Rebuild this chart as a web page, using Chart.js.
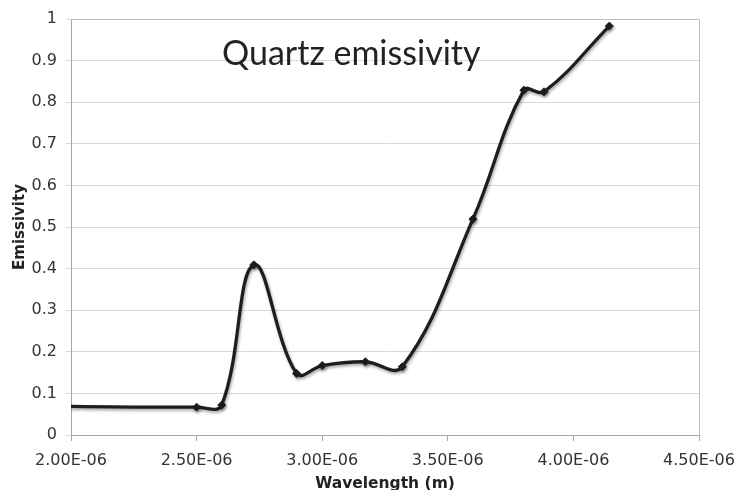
<!DOCTYPE html>
<html>
<head>
<meta charset="utf-8">
<script src="https://cdn.jsdelivr.net/npm/chart.js@4.4.0/dist/chart.umd.min.js"></script>
<style>
html,body{margin:0;padding:0;background:#fff;}
#wrap{width:736px;height:490px;position:relative;}
</style>
</head>
<body>
<div id="wrap"><canvas id="c" width="736" height="490"></canvas></div>
<script>
const chartTitle = "Quartz emissivity";
const xAxisTitle = "Wavelength (m)";
const yAxisTitle = "Emissivity";
const wavelengths = [1.8e-6, 2.50e-6, 2.60e-6, 2.728e-6, 2.898e-6, 3.00e-6, 3.172e-6, 3.319e-6, 3.60e-6, 3.803e-6, 3.883e-6, 4.143e-6];
const emissivity  = [0.070, 0.067, 0.072, 0.409, 0.148, 0.167, 0.176, 0.164, 0.519, 0.829, 0.825, 0.983];
const xTicks = [2.0e-6, 2.5e-6, 3.0e-6, 3.5e-6, 4.0e-6, 4.5e-6];
const yTicks = [0, 0.1, 0.2, 0.3, 0.4, 0.5, 0.6, 0.7, 0.8, 0.9, 1];

function fmtE(v){
  const e = Math.floor(Math.log10(Math.abs(v)) + 1e-9);
  const m = v / Math.pow(10, e);
  const sign = e < 0 ? "-" : "+";
  const ae = Math.abs(e);
  return m.toFixed(2) + "E" + sign + (ae < 10 ? "0" + ae : ae);
}

const titlePlugin = {
  id: 'insideTitle',
  afterDatasetsDraw(chart){
    const ctx = chart.ctx, a = chart.chartArea;
    ctx.save();
    ctx.font = '34px Lato, "Open Sans", sans-serif';
    ctx.fillStyle = '#222';
    ctx.textAlign = 'left';
    ctx.textBaseline = 'alphabetic';
    ctx.fillText(chartTitle, a.left + 151, a.top + 46);
    ctx.restore();
  }
};

const borderPlugin = {
  id: 'frame',
  beforeDatasetsDraw(chart){
    const ctx = chart.ctx, a = chart.chartArea;
    ctx.save();
    ctx.strokeStyle = '#bdbdbd';
    ctx.lineWidth = 1;
    ctx.beginPath();
    ctx.moveTo(a.left, a.top + 0.5);
    ctx.lineTo(a.right + 0.5, a.top + 0.5);
    ctx.lineTo(a.right + 0.5, a.bottom);
    ctx.stroke();
    ctx.restore();
  }
};

const shadowPlugin = {
  id: 'lineShadow',
  beforeDatasetDraw(chart){
    const ctx = chart.ctx;
    ctx.save();
    ctx.shadowColor = 'rgba(0,0,0,0.35)';
    ctx.shadowBlur = 3;
    ctx.shadowOffsetX = 1;
    ctx.shadowOffsetY = 2;
  },
  afterDatasetDraw(chart){
    chart.ctx.restore();
  }
};

new Chart(document.getElementById('c'), {
  type: 'scatter',
  data: {
    datasets: [{
      data: wavelengths.map((x, i) => ({x: x, y: emissivity[i]})),
      showLine: true,
      borderColor: '#1e1e1e',
      backgroundColor: '#1e1e1e',
      borderWidth: 3.3,
      tension: 0.4,
      pointStyle: 'rectRot',
      pointRadius: 4,
      pointBorderWidth: 1,
      pointHoverRadius: 4
    }]
  },
  options: {
    responsive: false,
    animation: false,
    devicePixelRatio: 1,
    layout: { padding: { top: 19, right: 0, left: 11, bottom: 0 } },
    plugins: {
      legend: { display: false },
      tooltip: { enabled: false },
      title: { display: false }
    },
    scales: {
      x: {
        type: 'linear',
        min: 2.0e-6,
        max: 4.5e-6,
        afterBuildTicks(axis){ axis.ticks = xTicks.map(v => ({value: v})); },
        afterFit(axis){ axis.height = 55; axis.paddingRight = 37; },
        grid: { display: true, drawOnChartArea: false, drawTicks: true, tickLength: 6, color: '#a6a6a6' },
        border: { display: true, color: '#a6a6a6', width: 1 },
        ticks: {
          callback: v => fmtE(v),
          font: { family: '"DejaVu Sans", Verdana, sans-serif', size: 16 },
          color: '#333',
          padding: 10,
          maxRotation: 0,
          autoSkip: false
        },
        title: {
          display: true,
          text: xAxisTitle,
          font: { family: '"DejaVu Sans", Verdana, sans-serif', size: 15.5, weight: 'bold' },
          color: '#222',
          padding: { top: 2, bottom: -3 }
        }
      },
      y: {
        min: 0,
        max: 1,
        afterBuildTicks(axis){ axis.ticks = yTicks.map(v => ({value: v})); },
        afterFit(axis){ axis.width = 60; },
        grid: { color: '#d9d9d9', tickLength: 5, lineWidth: 1 },
        border: { display: true, color: '#a6a6a6', width: 1 },
        ticks: {
          callback: v => String(Math.round(v * 10) / 10),
          font: { family: '"DejaVu Sans", Verdana, sans-serif', size: 16 },
          color: '#333',
          padding: 9
        },
        title: {
          display: true,
          text: yAxisTitle,
          font: { family: '"DejaVu Sans", Verdana, sans-serif', size: 15, weight: 'bold' },
          color: '#222',
          padding: { top: 0, bottom: 0 }
        }
      }
    }
  },
  plugins: [borderPlugin, shadowPlugin, titlePlugin]
});
</script>
</body>
</html>
